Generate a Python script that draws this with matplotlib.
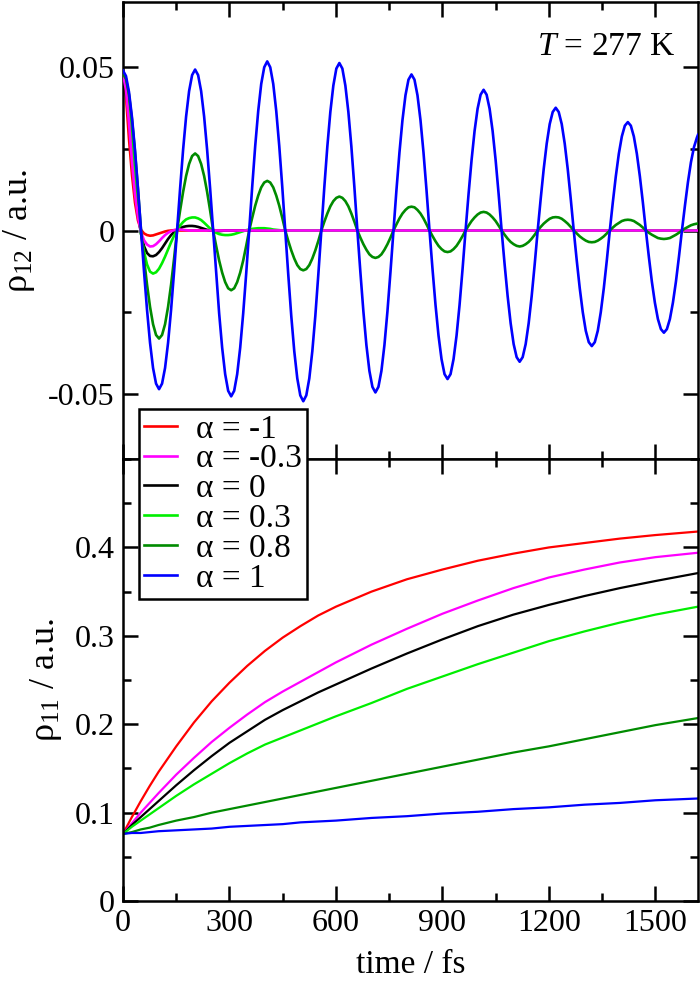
import matplotlib
matplotlib.use('Agg')
import matplotlib.pyplot as plt
from matplotlib.ticker import MultipleLocator

plt.rcParams['font.family'] = ['Liberation Serif', 'DejaVu Serif']
plt.rcParams['mathtext.fontset'] = 'custom'
plt.rcParams['mathtext.rm'] = 'Liberation Serif'
plt.rcParams['mathtext.it'] = 'Liberation Serif:italic'
plt.rcParams['axes.unicode_minus'] = False

# top panel: rho_12, sampled 24 times per oscillation period (203.2 fs)
t_top = [i * 203.2 / 24 for i in range(192)] + [1620]

rho12_blue = [
    0.0490, 0.0473, 0.0424, 0.0346, 0.0245, 0.0127, 0.0, -0.0126, -0.0243, -0.0344, -0.0421, -0.0469,
    -0.0486, -0.0469, -0.0421, -0.0344, -0.0243, -0.0126, 0.0, 0.0128, 0.0247, 0.0349, 0.0427, 0.0476,
    0.0493, 0.0476, 0.0427, 0.0349, 0.0247, 0.0128, 0.0, -0.0132, -0.0254, -0.0359, -0.0440, -0.0491,
    -0.0508, -0.0491, -0.0440, -0.0359, -0.0254, -0.0132, 0.0, 0.0134, 0.0259, 0.0366, 0.0449, 0.0500,
    0.0518, 0.0500, 0.0449, 0.0366, 0.0259, 0.0134, 0.0, -0.0135, -0.0262, -0.0370, -0.0453, -0.0505,
    -0.0523, -0.0505, -0.0453, -0.0370, -0.0262, -0.0135, 0.0, 0.0133, 0.0257, 0.0363, 0.0444, 0.0496,
    0.0513, 0.0496, 0.0444, 0.0363, 0.0257, 0.0133, 0.0, -0.0128, -0.0248, -0.0351, -0.0430, -0.0479,
    -0.0496, -0.0479, -0.0430, -0.0351, -0.0248, -0.0128, 0.0, 0.0124, 0.0239, 0.0338, 0.0414, 0.0462,
    0.0478, 0.0462, 0.0414, 0.0338, 0.0239, 0.0124, 0.0, -0.0118, -0.0228, -0.0322, -0.0394, -0.0440,
    -0.0455, -0.0440, -0.0394, -0.0322, -0.0228, -0.0118, 0.0, 0.0112, 0.0216, 0.0305, 0.0373, 0.0416,
    0.0431, 0.0416, 0.0373, 0.0305, 0.0216, 0.0112, 0.0, -0.0104, -0.0201, -0.0284, -0.0348, -0.0388,
    -0.0402, -0.0388, -0.0348, -0.0284, -0.0201, -0.0104, 0.0, 0.0097, 0.0188, 0.0266, 0.0326, 0.0363,
    0.0376, 0.0363, 0.0326, 0.0266, 0.0188, 0.0097, 0.0, -0.0092, -0.0177, -0.0250, -0.0307, -0.0342,
    -0.0354, -0.0342, -0.0307, -0.0250, -0.0177, -0.0092, 0.0, 0.0086, 0.0166, 0.0235, 0.0288, 0.0321,
    0.0332, 0.0321, 0.0288, 0.0235, 0.0166, 0.0086, 0.0, -0.0081, -0.0157, -0.0221, -0.0271, -0.0302,
    -0.0313, -0.0302, -0.0271, -0.0221, -0.0157, -0.0081, 0.0, 0.0076, 0.0148, 0.0209, 0.0255, 0.0285,
    0.0293,
]

rho12_dkgreen = [
    0.0480, 0.0464, 0.0416, 0.0339, 0.0240, 0.0124, 0.0, -0.0086, -0.0166, -0.0234, -0.0287, -0.0320,
    -0.0331, -0.0320, -0.0287, -0.0234, -0.0166, -0.0086, 0.0, 0.0061, 0.0118, 0.0167, 0.0204, 0.0228,
    0.0236, 0.0228, 0.0204, 0.0167, 0.0118, 0.0061, 0.0, -0.0047, -0.0092, -0.0129, -0.0158, -0.0177,
    -0.0183, -0.0177, -0.0158, -0.0129, -0.0092, -0.0047, 0.0, 0.0039, 0.0076, 0.0107, 0.0132, 0.0147,
    0.0152, 0.0147, 0.0132, 0.0107, 0.0076, 0.0039, 0.0, -0.0032, -0.0061, -0.0086, -0.0106, -0.0118,
    -0.0122, -0.0118, -0.0106, -0.0086, -0.0061, -0.0032, 0.0, 0.0027, 0.0052, 0.0074, 0.0090, 0.0100,
    0.0104, 0.0100, 0.0090, 0.0074, 0.0052, 0.0027, 0.0, -0.0022, -0.0042, -0.0059, -0.0073, -0.0081,
    -0.0084, -0.0081, -0.0073, -0.0059, -0.0042, -0.0022, 0.0, 0.0019, 0.0037, 0.0052, 0.0063, 0.0071,
    0.0073, 0.0071, 0.0063, 0.0052, 0.0037, 0.0019, 0.0, -0.0017, -0.0033, -0.0047, -0.0057, -0.0064,
    -0.0066, -0.0064, -0.0057, -0.0047, -0.0033, -0.0017, 0.0, 0.0015, 0.0029, 0.0040, 0.0049, 0.0055,
    0.0057, 0.0055, 0.0049, 0.0040, 0.0029, 0.0015, 0.0, -0.0013, -0.0025, -0.0035, -0.0042, -0.0047,
    -0.0049, -0.0047, -0.0042, -0.0035, -0.0025, -0.0013, 0.0, 0.0011, 0.0021, 0.0029, 0.0036, 0.0040,
    0.0041, 0.0040, 0.0036, 0.0029, 0.0021, 0.0011, 0.0, -0.0009, -0.0018, -0.0025, -0.0031, -0.0035,
    -0.0036, -0.0035, -0.0031, -0.0025, -0.0018, -0.0009, 0.0, 0.0009, 0.0017, 0.0023, 0.0029, 0.0032,
    0.0033, 0.0032, 0.0029, 0.0023, 0.0017, 0.0009, 0.0, -0.0007, -0.0013, -0.0018, -0.0023, -0.0025,
    -0.0026, -0.0025, -0.0023, -0.0018, -0.0013, -0.0007, 0.0, 0.0006, 0.0011, 0.0016, 0.0019, 0.0021,
    0.0021,
]

# strongly damped curves: first samples on the same grid, then flat zero up to 1620 fs
rho12_ltgreen = [
    0.0480, 0.0450, 0.0370, 0.0260, 0.0150, 0.0060, -0.0010, -0.0065, -0.0104, -0.0126,
    -0.0132, -0.0128, -0.0117, -0.0100, -0.0080, -0.0058, -0.0036, -0.0016, 0.0001, 0.0015,
    0.0026, 0.0034, 0.0038, 0.0040, 0.0040, 0.0037, 0.0032, 0.0024, 0.0015, 0.0006,
    -0.0002, -0.0007, -0.0011, -0.0013, -0.0014, -0.0014, -0.0013, -0.0011, -0.0008, -0.0005,
    -0.0002, 0.0001, 0.0003, 0.0005, 0.0006, 0.0007, 0.0007, 0.0007, 0.0006, 0.0005,
    0.0003, 0.0002, 0.0001, 0.0, 0.0,
]
rho12_black = [
    0.0480, 0.0440, 0.0350, 0.0240, 0.0130, 0.0050, -0.0010, -0.0048, -0.0069, -0.0078,
    -0.0079, -0.0075, -0.0066, -0.0054, -0.0040, -0.0026, -0.0014, -0.0005, 0.0002, 0.0007,
    0.0011, 0.0013, 0.0014, 0.0014, 0.0013, 0.0011, 0.0008, 0.0005, 0.0002, 0.0,
    -0.0001, -0.0002, -0.0002, -0.0001, 0.0, 0.0,
]
rho12_magenta = [
    0.0480, 0.0430, 0.0330, 0.0210, 0.0110, 0.0040, -0.0005, -0.0030, -0.0043, -0.0049,
    -0.0048, -0.0042, -0.0033, -0.0023, -0.0014, -0.0007, -0.0002, 0.0001, 0.0003, 0.0003,
    0.0002, 0.0001, 0.0, 0.0,
]
rho12_red = [
    0.0480, 0.0410, 0.0280, 0.0170, 0.0085, 0.0030, 0.0002, -0.0009, -0.0014, -0.0016,
    -0.0015, -0.0012, -0.0009, -0.0006, -0.0003, -0.0001, 0.0, 0.0001, 0.0001, 0.0, 0.0,
]

# bottom panel: rho_11
t_bot = [0, 25, 50, 75, 100, 150, 200, 250, 300, 350, 400, 450, 500, 550, 600,
         700, 800, 900, 1000, 1100, 1200, 1300, 1400, 1500, 1620]
rho11_red = [0.076, 0.095, 0.113, 0.130, 0.146, 0.175, 0.202, 0.226, 0.247, 0.266, 0.283, 0.298,
             0.311, 0.323, 0.333, 0.350, 0.364, 0.375, 0.385, 0.393, 0.400, 0.405, 0.410, 0.414, 0.418]
rho11_magenta = [0.076, 0.088, 0.100, 0.111, 0.122, 0.143, 0.162, 0.180, 0.196, 0.211, 0.225, 0.237,
                 0.248, 0.259, 0.270, 0.290, 0.308, 0.325, 0.340, 0.354, 0.366, 0.375, 0.383, 0.389, 0.394]
rho11_black = [0.076, 0.086, 0.095, 0.104, 0.113, 0.131, 0.148, 0.164, 0.179, 0.192, 0.205, 0.216,
               0.226, 0.236, 0.245, 0.263, 0.280, 0.296, 0.311, 0.324, 0.335, 0.345, 0.354, 0.362, 0.371]
rho11_ltgreen = [0.076, 0.084, 0.091, 0.098, 0.105, 0.119, 0.132, 0.144, 0.156, 0.167, 0.177, 0.185,
                 0.193, 0.201, 0.209, 0.224, 0.240, 0.254, 0.268, 0.281, 0.294, 0.305, 0.315, 0.324, 0.333]
rho11_dkgreen = [0.076, 0.078, 0.081, 0.083, 0.086, 0.091, 0.095, 0.100, 0.104, 0.108, 0.112, 0.116,
                 0.120, 0.124, 0.128, 0.136, 0.144, 0.152, 0.160, 0.168, 0.175, 0.183, 0.191, 0.199, 0.207]
rho11_blue = [0.076, 0.077, 0.077, 0.078, 0.079, 0.080, 0.081, 0.082, 0.084, 0.085, 0.086, 0.087,
              0.089, 0.090, 0.091, 0.094, 0.096, 0.099, 0.101, 0.104, 0.106, 0.109, 0.111, 0.114, 0.116]

labels = ['α = -1', 'α = -0.3', 'α = 0', 'α = 0.3', 'α = 0.8', 'α = 1']
colors = ['#ff0000', '#ff00ff', '#000000', '#00ee00', '#008b00', '#0000ff']
# magenta sits on top of the other damped curves along the zero line
zorders = [2.0, 2.6, 2.2, 2.4, 2.8, 3.0]

top_series = [rho12_red, rho12_magenta, rho12_black, rho12_ltgreen, rho12_dkgreen, rho12_blue]
bot_series = [rho11_red, rho11_magenta, rho11_black, rho11_ltgreen, rho11_dkgreen, rho11_blue]

fig = plt.figure(figsize=(7, 9.84), dpi=100)
ax1 = fig.add_axes([0.1757, 0.5335, 0.8214, 0.4645])
ax2 = fig.add_axes([0.1757, 0.0843, 0.8214, 0.4492], sharex=ax1)

handles = []
for ys, c, lab, z in zip(top_series, colors, labels, zorders):
    n = len(ys)
    if n == len(t_top):
        xs = t_top
    else:
        xs = t_top[:n - 1] + [1620]
    h, = ax1.plot(xs, ys, color=c, lw=1.9, label=lab, zorder=z)
    handles.append(h)

for ys, c in zip(bot_series, colors):
    ax2.plot(t_bot, ys, color=c, lw=1.6)

ax1.set_xlim(0, 1620)
ax1.set_ylim(-0.07, 0.07)
ax2.set_ylim(0, 0.5)

ax1.set_yticks([-0.05, 0, 0.05])
ax1.set_yticklabels(['-0.05', '0', '0.05'])
ax1.yaxis.set_minor_locator(MultipleLocator(0.025))
ax2.set_yticks([0, 0.1, 0.2, 0.3, 0.4])
ax2.set_yticklabels(['0', '0.1', '0.2', '0.3', '0.4'])
ax2.yaxis.set_minor_locator(MultipleLocator(0.05))
ax2.set_xticks([0, 300, 600, 900, 1200, 1500])
ax2.set_xticklabels(['0', '300', '600', '900', '1200', '1500'])
ax2.xaxis.set_minor_locator(MultipleLocator(150))
ax1.tick_params(axis='x', labelbottom=False)

for ax in (ax1, ax2):
    for s in ax.spines.values():
        s.set_linewidth(1.8)
    ax.tick_params(which='both', direction='in', top=True, right=True,
                   width=1.8, labelsize=23, pad=6)
    ax.tick_params(which='major', length=11)
    ax.tick_params(which='minor', length=6)

ax1.set_ylabel(r'ρ$_{12}$ / a.u.', fontsize=26, labelpad=8)
ax2.set_ylabel(r'ρ$_{11}$ / a.u.', fontsize=26, labelpad=8)
ax2.set_xlabel('time / fs', fontsize=24, labelpad=8)

ax1.text(0.96, 0.902, r'$T$ = 277 K', transform=ax1.transAxes,
         ha='right', va='center', fontsize=24)

leg = fig.legend(handles=handles, loc='upper left',
                 bbox_to_anchor=(139 / 700, 1 - 409 / 984),
                 fontsize=24, frameon=True, fancybox=False, framealpha=1,
                 edgecolor='black', borderpad=0.15, labelspacing=-0.02,
                 handlelength=1.0, handletextpad=0.55, borderaxespad=0)
leg.get_frame().set_linewidth(1.8)

fig.savefig('out.png', dpi=100)
